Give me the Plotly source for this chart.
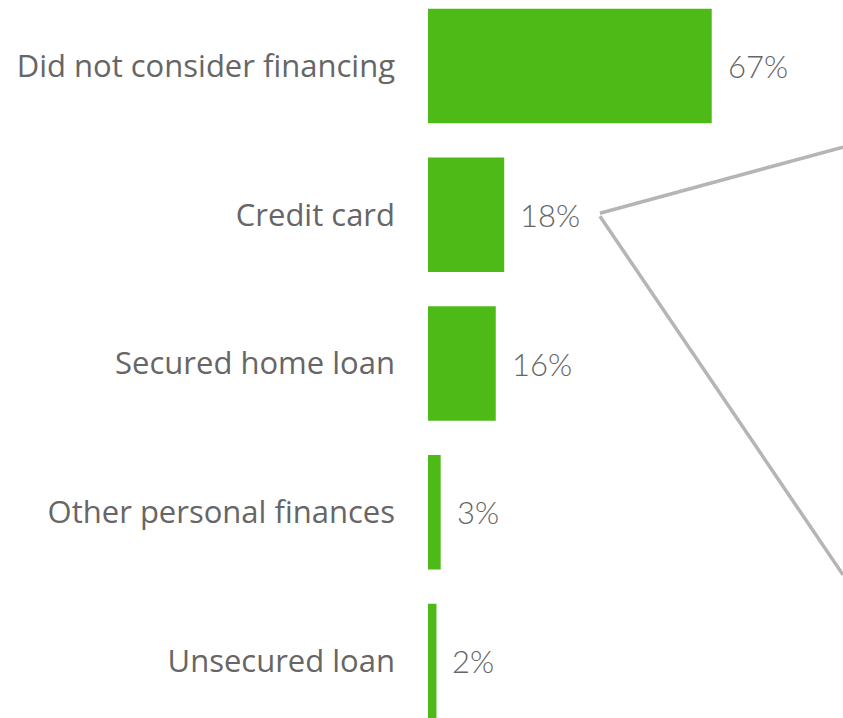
import plotly.graph_objects as go

categories = ["Did not consider financing", "Credit card", "Secured home loan",
              "Other personal finances", "Unsecured loan"]
values = [67, 18, 16, 3, 2]
value_labels = ["67%", "18%", "16%", "3%", "2%"]

GREEN = "#4dba18"
TEXT = "#666666"
LINE = "#b5b5b5"

fig = go.Figure(go.Bar(
    x=values, y=categories, orientation="h",
    marker=dict(color=GREEN, line=dict(width=0)),
    width=0.77, hoverinfo="skip",
))

annotations = []
for c, v, t in zip(categories, values, value_labels):
    annotations.append(dict(
        x=v, y=c, xref="x", yref="y", text=t, showarrow=False,
        xanchor="left", yanchor="middle", xshift=14,
        font=dict(family="Lato", size=31, color=TEXT, weight=300),
    ))

# callout lines from the "Credit card" label
fig.add_shape(type="line", xref="x", yref="y", x0=40.6, y0=0.99, x1=98, y1=0.545,
              line=dict(color=LINE, width=3.5))
fig.add_shape(type="line", xref="x", yref="y", x0=40.6, y0=1.01, x1=98, y1=3.42,
              line=dict(color=LINE, width=3.5))

fig.update_layout(
    width=843, height=718,
    margin=dict(l=428, r=0, t=0, b=0),
    paper_bgcolor="white", plot_bgcolor="white",
    showlegend=False,
    annotations=annotations,
    xaxis=dict(range=[0, 98], visible=False, fixedrange=True),
    yaxis=dict(
        type="category", categoryorder="array", categoryarray=categories,
        range=[4.383, -0.4437], showgrid=False, zeroline=False, showline=False,
        ticks="", ticklabelstandoff=32, fixedrange=True,
        tickfont=dict(family="Open Sans", size=31, color=TEXT),
    ),
)

fig.write_html("out.html", config={"displayModeBar": False},
               post_script="document.body.style.margin='0';document.body.style.padding='0';")
